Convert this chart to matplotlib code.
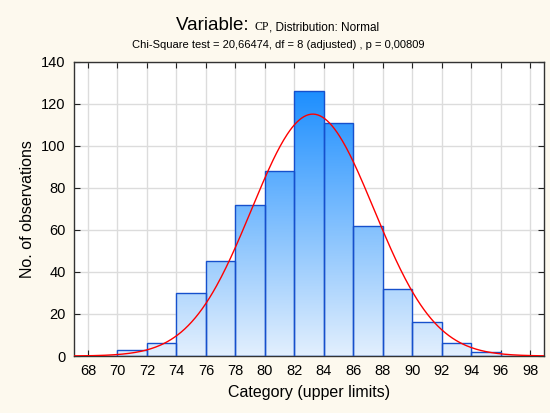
import numpy as np
import matplotlib.pyplot as plt
from matplotlib.colors import LinearSegmentedColormap

# histogram data (bin upper limits, counts)
bin_edges = [68, 70, 72, 74, 76, 78, 80, 82, 84, 86, 88, 90, 92, 94, 96, 98]
counts = [0, 3, 6, 30, 45, 72, 88, 126, 111, 62, 32, 16, 6, 2, 0]
x_ticks = [68, 70, 72, 74, 76, 78, 80, 82, 84, 86, 88, 90, 92, 94, 96, 98]
y_ticks = [0, 20, 40, 60, 80, 100, 120, 140]

# fitted normal
fit_mean = 83.25
fit_sd = 4.15
n_obs = sum(counts)

BG = "#fdf9ee"
plt.rcParams['font.family'] = ['Liberation Sans', 'DejaVu Sans']

fig = plt.figure(figsize=(5.5, 4.13), dpi=100, facecolor=BG)
ax = fig.add_axes([0.1345, 0.138, 0.855, 0.712])
ax.set_facecolor("white")

ax.set_xlim(67.05, 98.95)
ax.set_ylim(0, 140)

cmap = LinearSegmentedColormap.from_list("blu", ["#e2effd", "#1e8fff"])
grad = np.linspace(0, 1, 256).reshape(-1, 1) * (140 / 126.0)
grad = np.clip(grad, 0, 1)

width = bin_edges[1] - bin_edges[0]
bars = ax.bar(bin_edges[:-1], counts, width=width, align='edge',
              facecolor='none', edgecolor='#1650cc', linewidth=1.0, zorder=3)
for b in bars:
    if b.get_height() <= 0:
        continue
    im = ax.imshow(grad, cmap=cmap, vmin=0, vmax=1, origin='lower',
                   extent=[67.05, 98.95, 0, 140], aspect='auto', zorder=2)
    im.set_clip_path(b)

xs = np.linspace(67.05, 98.95, 400)
pdf = np.exp(-0.5 * ((xs - fit_mean) / fit_sd) ** 2) / (fit_sd * np.sqrt(2 * np.pi))
ax.plot(xs, n_obs * width * pdf, color='#ff0000', lw=1.0, zorder=4)

ax.set_xticks(x_ticks)
ax.set_yticks(y_ticks)
ax.grid(True, color='#dcdcdc', lw=1.0, zorder=0)
ax.set_axisbelow(True)
ax.tick_params(direction='in', length=4, top=True, right=True,
               labelsize=10.5, colors='#222222', labelcolor='black', pad=6)
for s in ax.spines.values():
    s.set_color('#333333')
    s.set_linewidth(1.0)

ax.set_xlabel("Category (upper limits)", fontsize=11.5, labelpad=5)
ax.set_ylabel("No. of observations", fontsize=11.5, labelpad=4)

# title made from pieces in different fonts
fig.canvas.draw()
r = fig.canvas.get_renderer()
pieces = [("Variable: ", 13.5, ['Liberation Sans']),
          ("CP", 8.5, ['Liberation Serif']),
          (", Distribution: Normal", 8.5, ['Liberation Sans'])]
texts = []
x = 0
for s, fs, fam in pieces:
    t = fig.text(x, 1 - 30.5 / 413, s, fontsize=fs, family=fam, va='baseline', ha='left')
    w = t.get_window_extent(r).width / fig.bbox.width
    texts.append((t, w))
    x += w
start = 0.505 - x / 2
for t, w in texts:
    t.set_x(start)
    start += w

fig.text(0.505, 1 - 48 / 413, "Chi-Square test = 20,66474, df = 8 (adjusted) , p = 0,00809",
         fontsize=8, ha='center', va='baseline')

fig.savefig("out.png", dpi=100, facecolor=BG)
